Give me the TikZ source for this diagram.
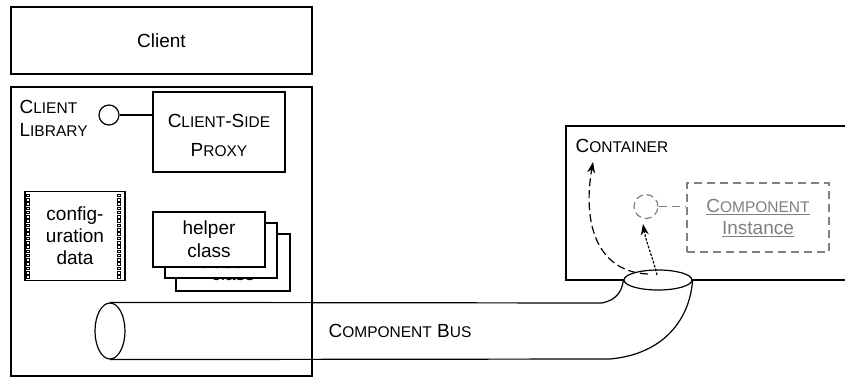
\documentclass[tikz,border=0pt]{standalone}
\usepackage{fontspec}
\setmainfont{Liberation Sans}
\usetikzlibrary{arrows.meta,shapes.geometric}
\newcommand\smc[2]{#1{\fontsize{15.5}{18}\selectfont #2}}
\definecolor{cgray}{RGB}{128,128,128}
\begin{document}
\begin{tikzpicture}[x=1pt,y=-1pt, line width=1.2pt,
  box/.style={draw, line width=1.2pt, inner sep=0pt},
  txt/.style={inner sep=0pt, align=center, font=\fontsize{19}{23}\selectfont},
  hbox/.style={box, fill=white, minimum width=112, minimum height=55, align=center, font=\fontsize{19}{23}\selectfont},
  gdash/.style={draw=cgray, dash pattern=on 8pt off 5pt, line width=1.2pt},
  arr/.style={-{Stealth[length=11pt,width=8pt]}}]
\useasboundingbox (0,0) rectangle (845,377);

% Client
\node[box, minimum width=301, minimum height=67, font=\fontsize{19}{23}\selectfont] (client) at (161.5,40.5) {Client};

% Client library
\node[box, minimum width=301, minimum height=289] (lib) at (161.5,231.5) {};
\node[txt, anchor=north west, align=left, font=\fontsize{19}{23}\selectfont] (libl) at (19,100) {\smc{C}{LIENT}\\\smc{L}{IBRARY}};

% Proxy
\node[box, minimum width=132, minimum height=80] (proxy) at (219,132) {};
\node[txt, font=\fontsize{19}{29}\selectfont] (proxyt) at (219,135) {\smc{C}{LIENT}-\smc{S}{IDE}\\\smc{P}{ROXY}};
\node[circle, draw, minimum size=20, inner sep=0pt] (iface) at (109,115) {};
\draw (iface.east) -- (iface.east -| proxy.west);

% configuration data
\node[box, minimum width=100, minimum height=89] (cfg) at (75,236) {};
\node[txt, font=\fontsize{19}{22}\selectfont] (cfgt) at (75,236) {config-\\uration\\data};
\foreach \i in {0,...,19}{
  \draw[line width=0.7pt] (26.5,194+\i*4.3) rectangle ++(3,2.6);
  \draw[line width=0.7pt] (117.5,194+\i*4.3) rectangle ++(3,2.6);
}

% helper classes
\node[hbox, minimum width=114, minimum height=57] (h3) at (233,262.5) {helper\\class};
\node[hbox] (h2) at (221,250.5) {helper\\class};
\node[hbox] (h1) at (209,239.5) {helper\\class};

% Container
\coordinate (ctr) at (845,126);
\coordinate (ctl) at (566,126);
\coordinate (cbl) at (566,280);
\coordinate (cbr) at (845,280);
\draw (ctr) -- (ctl) -- (cbl) -- (cbr);
\node[txt, anchor=north west] (contl) at (575,139) {\smc{C}{ONTAINER}};

% Component bus
\node[ellipse, draw, minimum width=30, minimum height=56, inner sep=0pt] (busL) at (110,331) {};
\node[ellipse, draw, fill=white, minimum width=68, minimum height=20, inner sep=0pt] (busR) at (658,280) {};
\draw (busL.north) -- (602,303) .. controls (616,300) and (622,292) .. (busR.west);
\draw (busL.south) -- (610,359) .. controls (665,354) and (690,318) .. (busR.east);
\node[txt, anchor=west] (busl) at (328,331) {\smc{C}{OMPONENT} \smc{B}{US}};

% Component instance
\node[gdash, minimum width=142, minimum height=69] (comp) at (758,217.5) {};
\node[txt, text=cgray, font=\fontsize{19}{22}\selectfont] (compt) at (758,218) {\underline{\smc{C}{OMPONENT}}\\\underline{Instance}};
\node[circle, gdash, dash pattern=on 7pt off 4pt, minimum size=24, inner sep=0pt] (ci) at (646,206.5) {};
\draw[gdash] (ci.east) -- (ci.east -| comp.west);

% arrows
\coordinate (a1s) at (648,274);
\coordinate (a1e) at (593,162);
\draw[dash pattern=on 8pt off 4pt, arr] (a1s) .. controls (598,272) and (582,225) .. (a1e);
\coordinate (a2s) at (657,275);
\coordinate (a2e) at (643,224);
\draw[dash pattern=on 2.5pt off 1.5pt, arr] (a2s) .. controls (653,258) and (646,242) .. (a2e);
\end{tikzpicture}
\end{document}
